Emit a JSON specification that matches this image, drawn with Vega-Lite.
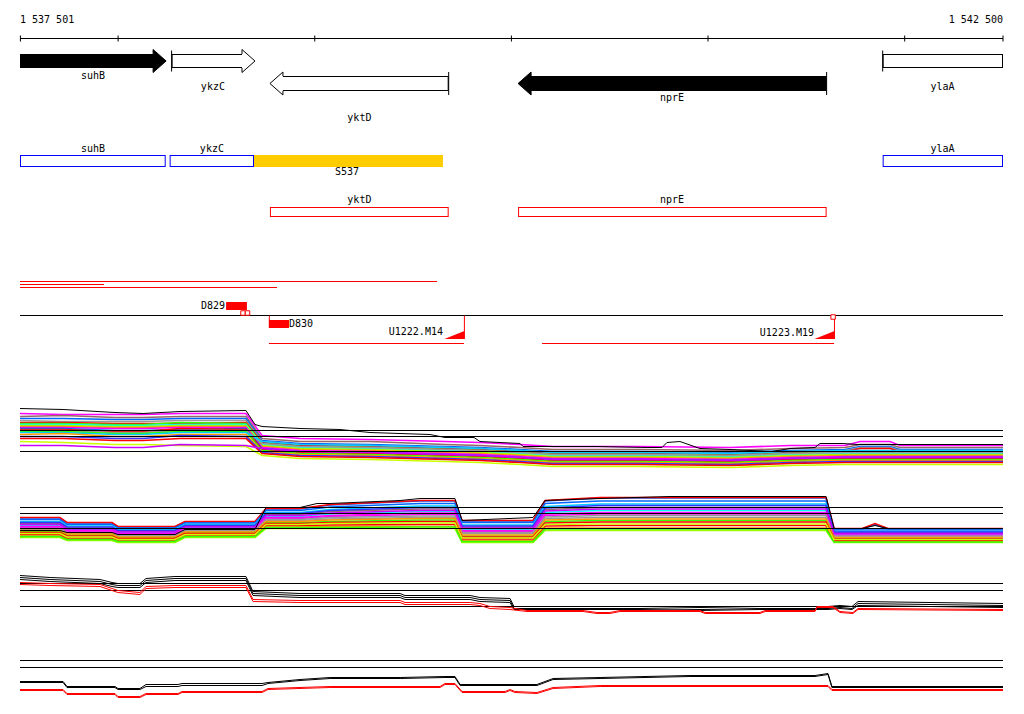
{
"$schema":"https://vega.github.io/schema/vega-lite/v6.json",
"width":1024,"height":714,
"autosize":{"type":"fit","contains":"padding"},
"padding":0,
"background":"white",
"config":{"view":{"stroke":null},"text":{"font":"DejaVu Sans Mono","fontSize":10,"fill":"black"},"rule":{"strokeCap":"butt"}},
"datasets":{
"genes":[
{"name":"suhB","left":1537000,"right":1538244,"strand":"+","kind":"solid","mid":1537872,"row":6.1,"lrow":7.6},
{"name":"ykzC","left":1538272,"right":1538696,"strand":"+","kind":"open","mid":1538482,"row":6.1,"lrow":8.7},
{"name":"yktD","left":1538772,"right":1539681,"strand":"-","kind":"open","mid":1539227,"row":8.35,"lrow":11.8},
{"name":"nprE","left":1540034,"right":1541603,"strand":"-","kind":"solid","mid":1540817,"row":8.35,"lrow":9.8},
{"name":"ylaA","left":1541888,"right":1543100,"strand":"+","kind":"open","mid":1542192,"row":6.1,"lrow":8.65}
],
"boxes":[
{"name":"suhB","left":1537501,"right":1538242,"mid":1537872,"row":16.1,"type":"blue"},
{"name":"ykzC","left":1538262,"right":1538691,"mid":1538477,"row":16.1,"type":"blue"},
{"name":"ylaA","left":1541888,"right":1542500,"mid":1542192,"row":16.1,"type":"blue"},
{"name":"yktD","left":1538772,"right":1539681,"mid":1539227,"row":21.2,"type":"red"},
{"name":"nprE","left":1540034,"right":1541603,"mid":1540817,"row":21.2,"type":"red"}
],
"p1":[
{"x":1537501,"s1":62,"s2":59,"s3":57,"s4":55,"s5":53,"s6":52,"s7":51,"s8":50,"s9":49,"s10":48,"s11":47,"s12":46,"s13":45,"s14":44,"s15":43,"s16":41,"s17":39,"s18":37,"s19":34,"s20":30},
{"x":1537720,"s1":61,"s2":60,"s3":57,"s4":54,"s5":53,"s6":52,"s7":51,"s8":50,"s9":49,"s10":48,"s11":47,"s12":46,"s13":45,"s14":44,"s15":43,"s16":42,"s17":39,"s18":37,"s19":33,"s20":30},
{"x":1537984,"s1":61,"s2":58,"s3":56,"s4":54,"s5":52,"s6":51,"s7":50,"s8":49,"s9":48,"s10":47,"s11":45,"s12":44,"s13":43,"s14":42,"s15":41,"s16":39,"s17":37,"s18":35,"s19":31,"s20":28},
{"x":1538127,"s1":61,"s2":58,"s3":56,"s4":54,"s5":52,"s6":51,"s7":50,"s8":49,"s9":48,"s10":47,"s11":45,"s12":44,"s13":43,"s14":42,"s15":41,"s16":39,"s17":37,"s18":35,"s19":31,"s20":28},
{"x":1538315,"s1":62,"s2":59,"s3":57,"s4":55,"s5":52,"s6":53,"s7":51,"s8":50,"s9":49,"s10":48,"s11":46,"s12":47,"s13":45,"s14":44,"s15":43,"s16":41,"s17":40,"s18":37,"s19":30,"s20":31},
{"x":1538650,"s1":62,"s2":59,"s3":57,"s4":55,"s5":53,"s6":52,"s7":51,"s8":50,"s9":49,"s10":48,"s11":47,"s12":46,"s13":45,"s14":44,"s15":43,"s16":41,"s17":39,"s18":37,"s19":29,"s20":30},
{"x":1538732,"s1":40,"s2":37,"s3":35,"s4":34,"s5":33,"s6":32,"s7":31,"s8":30,"s9":29,"s10":28,"s11":27,"s12":26,"s13":32,"s14":25,"s15":34,"s16":24,"s17":23,"s18":22,"s19":20,"s20":27},
{"x":1538925,"s1":37,"s2":34,"s3":32,"s4":31,"s5":30,"s6":29,"s7":28,"s8":27,"s9":26,"s10":25,"s11":24,"s12":23,"s13":29,"s14":22,"s15":31,"s16":21,"s17":20,"s18":19,"s19":17,"s20":24},
{"x":1539281,"s1":36,"s2":34,"s3":31,"s4":30,"s5":29,"s6":28,"s7":27,"s8":26,"s9":25,"s10":24,"s11":23,"s12":22,"s13":28,"s14":21,"s15":30,"s16":20,"s17":19,"s18":18,"s19":16,"s20":23},
{"x":1539662,"s1":34,"s2":31,"s3":29,"s4":28,"s5":27,"s6":26,"s7":25,"s8":24,"s9":23,"s10":22,"s11":21,"s12":20,"s13":26,"s14":19,"s15":28,"s16":18,"s17":17,"s18":16,"s19":14,"s20":21},
{"x":1539840,"s1":33,"s2":30,"s3":28,"s4":27,"s5":26,"s6":25,"s7":24,"s8":23,"s9":22,"s10":21,"s11":20,"s12":19,"s13":25,"s14":18,"s15":27,"s16":17,"s17":16,"s18":15,"s19":13,"s20":20},
{"x":1540044,"s1":31,"s2":28,"s3":26,"s4":25,"s5":24,"s6":23,"s7":22,"s8":21,"s9":20,"s10":19,"s11":18,"s12":17,"s13":23,"s14":16,"s15":25,"s16":15,"s17":14,"s18":13,"s19":11,"s20":18},
{"x":1540212,"s1":29,"s2":26,"s3":24,"s4":23,"s5":22,"s6":21,"s7":20,"s8":19,"s9":18,"s10":17,"s11":16,"s12":15,"s13":21,"s14":14,"s15":23,"s16":13,"s17":12,"s18":11,"s19":9,"s20":16},
{"x":1540654,"s1":29,"s2":26,"s3":24,"s4":23,"s5":22,"s6":21,"s7":20,"s8":19,"s9":18,"s10":17,"s11":16,"s12":15,"s13":21,"s14":14,"s15":23,"s16":13,"s17":12,"s18":11,"s19":9,"s20":16},
{"x":1541112,"s1":28,"s2":25,"s3":23,"s4":22,"s5":21,"s6":20,"s7":19,"s8":18,"s9":17,"s10":16,"s11":15,"s12":14,"s13":20,"s14":13,"s15":22,"s16":12,"s17":11,"s18":10,"s19":8,"s20":15},
{"x":1541417,"s1":30,"s2":27,"s3":25,"s4":24,"s5":23,"s6":22,"s7":21,"s8":20,"s9":19,"s10":18,"s11":17,"s12":16,"s13":22,"s14":15,"s15":24,"s16":14,"s17":13,"s18":12,"s19":10,"s20":17},
{"x":1541697,"s1":30,"s2":28,"s3":26,"s4":25,"s5":24,"s6":23,"s7":22,"s8":21,"s9":20,"s10":19,"s11":18,"s12":17,"s13":23,"s14":16,"s15":25,"s16":15,"s17":14,"s18":13,"s19":11,"s20":18},
{"x":1541773,"s1":34,"s2":31,"s3":29,"s4":28,"s5":27,"s6":23,"s7":22,"s8":21,"s9":20,"s10":19,"s11":18,"s12":17,"s13":23,"s14":16,"s15":25,"s16":15,"s17":14,"s18":13,"s19":11,"s20":18},
{"x":1541925,"s1":34,"s2":31,"s3":29,"s4":28,"s5":27,"s6":23,"s7":22,"s8":21,"s9":20,"s10":19,"s11":18,"s12":17,"s13":23,"s14":16,"s15":25,"s16":15,"s17":14,"s18":13,"s19":11,"s20":18},
{"x":1541976,"s1":30,"s2":28,"s3":26,"s4":25,"s5":24,"s6":23,"s7":22,"s8":21,"s9":20,"s10":19,"s11":18,"s12":17,"s13":23,"s14":16,"s15":25,"s16":15,"s17":14,"s18":13,"s19":11,"s20":18},
{"x":1542500,"s1":30,"s2":28,"s3":26,"s4":25,"s5":24,"s6":23,"s7":22,"s8":21,"s9":20,"s10":19,"s11":18,"s12":17,"s13":23,"s14":16,"s15":25,"s16":15,"s17":14,"s18":13,"s19":11,"s20":18}
],
"p1k":[
{"x":1537501,"v":67},{"x":1537720,"v":66},{"x":1537984,"v":63},{"x":1538127,"v":62},{"x":1538315,"v":64},{"x":1538650,"v":65},{"x":1538696,"v":51},{"x":1538732,"v":49},{"x":1538925,"v":47},{"x":1539128,"v":46},{"x":1539281,"v":43},{"x":1539586,"v":41},{"x":1539662,"v":38},{"x":1539810,"v":38},{"x":1539840,"v":34},{"x":1540044,"v":32},{"x":1540059,"v":29},{"x":1540435,"v":29},{"x":1540690,"v":28},{"x":1540766,"v":28},{"x":1540791,"v":33},{"x":1540857,"v":34},{"x":1540959,"v":27},{"x":1541112,"v":26},{"x":1541325,"v":24},{"x":1541417,"v":27},{"x":1541544,"v":28},{"x":1541569,"v":32},{"x":1541686,"v":32},{"x":1541758,"v":31},{"x":1542500,"v":31}
],
"p2":[
{"x":1537501,"s1":23,"s2":27,"s3":32.5,"s4":21,"s5":33,"s6":19,"s7":25,"s8":13,"s9":14.5,"s10":24,"s11":31,"s12":16,"s13":22,"s14":14,"s15":29,"s16":20,"s17":28,"s18":18,"s19":17,"s20":26},
{"x":1537704,"s1":23,"s2":27,"s3":32.5,"s4":21,"s5":33,"s6":19,"s7":25,"s8":13,"s9":14.5,"s10":24,"s11":31,"s12":16,"s13":22,"s14":14,"s15":29,"s16":20,"s17":28,"s18":18,"s19":17,"s20":26},
{"x":1537740,"s1":19,"s2":22.5,"s3":27.5,"s4":17,"s5":28,"s6":15.5,"s7":21,"s8":10,"s9":11.5,"s10":20,"s11":26,"s12":12.5,"s13":18,"s14":11,"s15":24.5,"s16":16.5,"s17":23.5,"s18":14.5,"s19":13.5,"s20":21.5},
{"x":1537969,"s1":19,"s2":22.5,"s3":27.5,"s4":17,"s5":28,"s6":15.5,"s7":21,"s8":10,"s9":11.5,"s10":20,"s11":26,"s12":12.5,"s13":18,"s14":11,"s15":24.5,"s16":16.5,"s17":23.5,"s18":14.5,"s19":13.5,"s20":21.5},
{"x":1537999,"s1":16,"s2":19,"s3":23.5,"s4":14.5,"s5":24,"s6":13,"s7":17.5,"s8":8,"s9":9.5,"s10":17,"s11":22.5,"s12":10.5,"s13":15,"s14":9,"s15":21,"s16":13.5,"s17":20,"s18":12,"s19":11,"s20":18.5},
{"x":1538289,"s1":16,"s2":19,"s3":23.5,"s4":14.5,"s5":24,"s6":13,"s7":17.5,"s8":8,"s9":9.5,"s10":17,"s11":22.5,"s12":10.5,"s13":15,"s14":9,"s15":21,"s16":13.5,"s17":20,"s18":12,"s19":11,"s20":18.5},
{"x":1538340,"s1":21,"s2":24,"s3":28.5,"s4":19.5,"s5":29,"s6":18,"s7":22.5,"s8":13,"s9":14.5,"s10":22,"s11":27.5,"s12":15.5,"s13":20,"s14":14,"s15":26,"s16":18.5,"s17":25,"s18":17,"s19":16,"s20":23.5},
{"x":1538696,"s1":21,"s2":24,"s3":28.5,"s4":19.5,"s5":29,"s6":18,"s7":22.5,"s8":13,"s9":14.5,"s10":22,"s11":27.5,"s12":15.5,"s13":20,"s14":14,"s15":26,"s16":18.5,"s17":25,"s18":17,"s19":16,"s20":23.5},
{"x":1538752,"s1":32,"s2":36,"s3":41.5,"s4":30,"s5":42,"s6":28,"s7":34,"s8":22,"s9":23.5,"s10":33,"s11":40,"s12":25,"s13":31,"s14":23,"s15":38,"s16":29,"s17":37,"s18":27,"s19":26,"s20":35},
{"x":1538925,"s1":32,"s2":36,"s3":41.5,"s4":30,"s5":42,"s6":28,"s7":34,"s8":22,"s9":23.5,"s10":33,"s11":40,"s12":25,"s13":31,"s14":23,"s15":38,"s16":29,"s17":37,"s18":27,"s19":26,"s20":35},
{"x":1539078,"s1":34,"s2":39,"s3":45.5,"s4":31.5,"s5":46,"s6":29,"s7":36.5,"s8":22,"s9":24,"s10":35,"s11":43.5,"s12":25.5,"s13":33,"s14":23,"s15":41,"s16":30.5,"s17":40,"s18":28,"s19":27,"s20":37.5},
{"x":1539535,"s1":36,"s2":41.5,"s3":49.5,"s4":33,"s5":50,"s6":30.5,"s7":39,"s8":22,"s9":24,"s10":37.5,"s11":47,"s12":26,"s13":34.5,"s14":23.5,"s15":44.5,"s16":32,"s17":43,"s18":29,"s19":27.5,"s20":40},
{"x":1539713,"s1":36,"s2":41.5,"s3":49.5,"s4":33,"s5":50,"s6":30.5,"s7":39,"s8":22,"s9":24,"s10":37.5,"s11":47,"s12":26,"s13":34.5,"s14":23.5,"s15":44.5,"s16":32,"s17":43,"s18":29,"s19":27.5,"s20":40},
{"x":1539749,"s1":19,"s2":23.5,"s3":29.5,"s4":17,"s5":30,"s6":14.5,"s7":21,"s8":8,"s9":10,"s10":20,"s11":28,"s12":11.5,"s13":18,"s14":9,"s15":25.5,"s16":15.5,"s17":24.5,"s18":13.5,"s19":12.5,"s20":22.5},
{"x":1540110,"s1":19,"s2":23.5,"s3":29.5,"s4":17,"s5":30,"s6":14.5,"s7":21,"s8":8,"s9":10,"s10":20,"s11":28,"s12":11.5,"s13":18,"s14":9,"s15":25.5,"s16":15.5,"s17":24.5,"s18":13.5,"s19":12.5,"s20":22.5},
{"x":1540171,"s1":35,"s2":41,"s3":49.5,"s4":32,"s5":50,"s6":29,"s7":38,"s8":20,"s9":22.5,"s10":36.5,"s11":47,"s12":24.5,"s13":33.5,"s14":21.5,"s15":44,"s16":30.5,"s17":42.5,"s18":27.5,"s19":26,"s20":39.5},
{"x":1540451,"s1":36.5,"s2":43,"s3":52.5,"s4":33,"s5":53,"s6":30,"s7":40,"s8":20,"s9":22.5,"s10":38,"s11":49.5,"s12":25,"s13":35,"s14":21.5,"s15":46.5,"s16":31.5,"s17":45,"s18":28.5,"s19":26.5,"s20":41.5},
{"x":1541600,"s1":36.5,"s2":43,"s3":52.5,"s4":33,"s5":53,"s6":30,"s7":40,"s8":20,"s9":22.5,"s10":38,"s11":49.5,"s12":25,"s13":35,"s14":21.5,"s15":46.5,"s16":31.5,"s17":45,"s18":28.5,"s19":26.5,"s20":41.5},
{"x":1541641,"s1":15,"s2":18,"s3":21.5,"s4":13.5,"s5":22,"s6":12,"s7":16.5,"s8":8,"s9":9,"s10":15.5,"s11":20.5,"s12":10,"s13":14.5,"s14":8.5,"s15":19,"s16":13,"s17":18.5,"s18":11.5,"s19":11,"s20":17},
{"x":1541783,"s1":15,"s2":18,"s3":21.5,"s4":13.5,"s5":22,"s6":12,"s7":16.5,"s8":8,"s9":9,"s10":15.5,"s11":20.5,"s12":10,"s13":14.5,"s14":8.5,"s15":19,"s16":13,"s17":18.5,"s18":11.5,"s19":11,"s20":17},
{"x":1541849,"s1":15,"s2":18,"s3":26,"s4":13.5,"s5":27,"s6":12,"s7":16.5,"s8":8,"s9":9,"s10":15.5,"s11":20.5,"s12":10,"s13":14.5,"s14":8.5,"s15":19,"s16":13,"s17":18.5,"s18":11.5,"s19":11,"s20":17},
{"x":1541915,"s1":15,"s2":18,"s3":21.5,"s4":13.5,"s5":22,"s6":12,"s7":16.5,"s8":8,"s9":9,"s10":15.5,"s11":20.5,"s12":10,"s13":14.5,"s14":8.5,"s15":19,"s16":13,"s17":18.5,"s18":11.5,"s19":11,"s20":17},
{"x":1542500,"s1":15,"s2":18,"s3":21.5,"s4":13.5,"s5":22,"s6":12,"s7":16.5,"s8":8,"s9":9,"s10":15.5,"s11":20.5,"s12":10,"s13":14.5,"s14":8.5,"s15":19,"s16":13,"s17":18.5,"s18":11.5,"s19":11,"s20":17}
],
"p2k":[
{"x":1537501,"v":20},{"x":1537704,"v":20},{"x":1537740,"v":18},{"x":1537969,"v":18},{"x":1537999,"v":16},{"x":1538289,"v":16},{"x":1538340,"v":21},{"x":1538696,"v":21},{"x":1538752,"v":43},{"x":1538925,"v":43},{"x":1539011,"v":47},{"x":1539078,"v":47},{"x":1539434,"v":50},{"x":1539535,"v":52},{"x":1539713,"v":52},{"x":1539749,"v":30},{"x":1540110,"v":33},{"x":1540171,"v":50},{"x":1540451,"v":52},{"x":1540807,"v":54},{"x":1541600,"v":54},{"x":1541641,"v":22},{"x":1541783,"v":22},{"x":1541849,"v":25},{"x":1541915,"v":22},{"x":1542500,"v":22}
],
"p3b":[
{"x":1537501,"b1":50,"b2":48,"b3":46},{"x":1537654,"b1":48,"b2":46,"b3":44},{"x":1537908,"b1":46,"b2":44,"b3":42},{"x":1537969,"b1":43,"b2":41,"b3":39},{"x":1537999,"b1":42,"b2":40,"b3":38},{"x":1538111,"b1":42,"b2":40,"b3":38},{"x":1538142,"b1":47,"b2":45,"b3":43},{"x":1538289,"b1":49,"b2":47,"b3":45},{"x":1538650,"b1":49,"b2":47,"b3":45},{"x":1538686,"b1":34,"b2":32,"b3":30},{"x":1538925,"b1":32,"b2":30,"b3":28},{"x":1539434,"b1":32,"b2":30,"b3":28},{"x":1539459,"b1":30,"b2":28,"b3":26},{"x":1539790,"b1":30,"b2":28,"b3":26},{"x":1539840,"b1":28,"b2":26,"b3":24},{"x":1539993,"b1":27,"b2":25,"b3":23},{"x":1540013,"b1":19,"b2":17,"b3":16},{"x":1540654,"b1":19,"b2":17,"b3":16},{"x":1540959,"b1":18,"b2":16,"b3":15},{"x":1541264,"b1":19,"b2":17,"b3":16},{"x":1541610,"b1":19,"b2":17,"b3":16},{"x":1541671,"b1":20,"b2":18,"b3":17},{"x":1541732,"b1":19,"b2":17,"b3":16},{"x":1541763,"b1":24,"b2":22,"b3":20},{"x":1542500,"b1":22,"b2":20,"b3":18}
],
"p3r":[
{"x":1537501,"r1":43,"r2":41},{"x":1537654,"r1":42,"r2":40},{"x":1537908,"r1":41,"r2":39},{"x":1537969,"r1":37,"r2":35},{"x":1537999,"r1":35,"r2":33},{"x":1538111,"r1":33,"r2":31},{"x":1538142,"r1":39,"r2":37},{"x":1538289,"r1":40,"r2":38},{"x":1538650,"r1":40,"r2":38},{"x":1538686,"r1":26,"r2":24},{"x":1538925,"r1":25,"r2":23},{"x":1539434,"r1":25,"r2":23},{"x":1539459,"r1":23,"r2":21},{"x":1539790,"r1":23,"r2":21},{"x":1539840,"r1":22,"r2":20},{"x":1539891,"r1":19,"r2":17},{"x":1539993,"r1":18,"r2":16},{"x":1540079,"r1":15,"r2":14},{"x":1540364,"r1":15,"r2":14},{"x":1540435,"r1":13,"r2":12},{"x":1540501,"r1":13,"r2":12},{"x":1540552,"r1":15,"r2":14},{"x":1540959,"r1":15,"r2":14},{"x":1540985,"r1":13,"r2":12},{"x":1541264,"r1":13,"r2":12},{"x":1541290,"r1":15,"r2":14},{"x":1541544,"r1":15,"r2":14},{"x":1541554,"r1":19,"r2":18},{"x":1541636,"r1":19,"r2":18},{"x":1541671,"r1":14,"r2":13},{"x":1541737,"r1":13,"r2":12},{"x":1541763,"r1":17,"r2":16},{"x":1542500,"r1":16,"r2":15}
],
"p4b":[
{"x":1537501,"b1":24,"b2":23},{"x":1537720,"b1":24,"b2":23},{"x":1537740,"b1":19,"b2":18},{"x":1537984,"b1":19,"b2":18},{"x":1537999,"b1":17,"b2":16},{"x":1538111,"b1":17,"b2":16},{"x":1538142,"b1":21,"b2":19},{"x":1538305,"b1":21,"b2":19},{"x":1538325,"b1":22,"b2":20},{"x":1538732,"b1":22,"b2":20},{"x":1538762,"b1":23,"b2":22},{"x":1538925,"b1":26,"b2":25},{"x":1539078,"b1":28,"b2":27},{"x":1539434,"b1":28,"b2":27},{"x":1539662,"b1":29,"b2":28},{"x":1539713,"b1":29,"b2":28},{"x":1539739,"b1":21,"b2":20},{"x":1540130,"b1":21,"b2":20},{"x":1540212,"b1":27,"b2":26},{"x":1540451,"b1":28,"b2":27},{"x":1540908,"b1":30,"b2":29},{"x":1541544,"b1":30,"b2":29},{"x":1541610,"b1":32,"b2":31},{"x":1541630,"b1":19,"b2":18},{"x":1542500,"b1":19,"b2":18}
],
"p4r":[
{"x":1537501,"r1":16,"r2":15},{"x":1537720,"r1":16,"r2":15},{"x":1537740,"r1":12,"r2":11},{"x":1537984,"r1":12,"r2":11},{"x":1537999,"r1":9,"r2":8},{"x":1538111,"r1":9,"r2":8},{"x":1538142,"r1":12,"r2":11},{"x":1538305,"r1":12,"r2":11},{"x":1538325,"r1":14,"r2":13},{"x":1538732,"r1":14,"r2":13},{"x":1538762,"r1":17,"r2":16},{"x":1539078,"r1":19,"r2":18},{"x":1539637,"r1":19,"r2":18},{"x":1539662,"r1":22,"r2":21},{"x":1539713,"r1":22,"r2":21},{"x":1539749,"r1":14,"r2":13},{"x":1539968,"r1":14,"r2":13},{"x":1539993,"r1":16,"r2":15},{"x":1540018,"r1":14,"r2":13},{"x":1540130,"r1":13,"r2":12},{"x":1540212,"r1":18,"r2":17},{"x":1540451,"r1":20,"r2":19},{"x":1541610,"r1":20,"r2":19},{"x":1541630,"r1":16,"r2":15},{"x":1542500,"r1":16,"r2":15}
]
},
"layer":[
{"data":{"values":[{"a":1537501,"b":1542500,"row":3.85}]},"mark":{"type":"rule","stroke":"black","strokeWidth":1},"encoding":{"x":{"field":"a","type":"quantitative","scale":{"domain":[1537501,1542500],"range":[20,1003],"clamp":true},"axis":null},"x2":{"field":"b"},"y":{"field":"row","type":"quantitative","scale":{"domain":[0,71.4],"range":[0,714]},"axis":null}}},
{"data":{"values":[{"p":1537503,"row":3.85},{"p":1538000,"row":3.85},{"p":1539000,"row":3.85},{"p":1540000,"row":3.85},{"p":1541000,"row":3.85},{"p":1542000,"row":3.85},{"p":1542500,"row":3.85}]},"mark":{"type":"point","shape":"M0,-1L0,1","size":36,"filled":false,"stroke":"black","strokeWidth":1,"opacity":1},"encoding":{"x":{"field":"p","type":"quantitative","scale":{"domain":[1537501,1542500],"range":[20,1003],"clamp":true},"axis":null},"y":{"field":"row","type":"quantitative","scale":{"domain":[0,71.4],"range":[0,714]},"axis":null}}},
{"data":{"values":[{"p":1537501,"row":2.0,"t":"1 537 501"}]},"mark":{"type":"text","align":"left","baseline":"middle"},"encoding":{"x":{"field":"p","type":"quantitative","scale":{"domain":[1537501,1542500],"range":[20,1003],"clamp":true},"axis":null},"y":{"field":"row","type":"quantitative","scale":{"domain":[0,71.4],"range":[0,714]},"axis":null},"text":{"field":"t"}}},
{"data":{"values":[{"p":1542500,"row":2.0,"t":"1 542 500"}]},"mark":{"type":"text","align":"right","baseline":"middle"},"encoding":{"x":{"field":"p","type":"quantitative","scale":{"domain":[1537501,1542500],"range":[20,1003],"clamp":true},"axis":null},"y":{"field":"row","type":"quantitative","scale":{"domain":[0,71.4],"range":[0,714]},"axis":null},"text":{"field":"t"}}},

{"data":{"name":"genes"},"transform":[{"filter":"datum.strand == '+' && datum.right <= 1542500"}],"mark":{"type":"rule","strokeWidth":14,"x2Offset":-11,"stroke":"black"},"encoding":{"x":{"field":"left","type":"quantitative","scale":{"domain":[1537501,1542500],"range":[20,1003],"clamp":true},"axis":null},"x2":{"field":"right"},"y":{"field":"row","type":"quantitative","scale":{"domain":[0,71.4],"range":[0,714]},"axis":null}}},
{"data":{"name":"genes"},"transform":[{"filter":"datum.strand == '+' && datum.right <= 1542500"}],"mark":{"type":"rule","strokeWidth":12,"xOffset":1,"x2Offset":-12},"encoding":{"x":{"field":"left","type":"quantitative","scale":{"domain":[1537501,1542500],"range":[20,1003],"clamp":true},"axis":null},"x2":{"field":"right"},"y":{"field":"row","type":"quantitative","scale":{"domain":[0,71.4],"range":[0,714]},"axis":null},"color":{"field":"kind","type":"nominal","scale":{"domain":["solid","open"],"range":["black","white"]},"legend":null}}},
{"data":{"name":"genes"},"transform":[{"filter":"datum.strand == '+' && datum.right > 1542500"}],"mark":{"type":"rule","strokeWidth":14,"stroke":"black"},"encoding":{"x":{"field":"left","type":"quantitative","scale":{"domain":[1537501,1542500],"range":[20,1003],"clamp":true},"axis":null},"x2":{"field":"right"},"y":{"field":"row","type":"quantitative","scale":{"domain":[0,71.4],"range":[0,714]},"axis":null}}},
{"data":{"name":"genes"},"transform":[{"filter":"datum.strand == '+' && datum.right > 1542500"}],"mark":{"type":"rule","strokeWidth":12,"xOffset":1,"x2Offset":-1},"encoding":{"x":{"field":"left","type":"quantitative","scale":{"domain":[1537501,1542500],"range":[20,1003],"clamp":true},"axis":null},"x2":{"field":"right"},"y":{"field":"row","type":"quantitative","scale":{"domain":[0,71.4],"range":[0,714]},"axis":null},"color":{"field":"kind","type":"nominal","scale":{"domain":["solid","open"],"range":["black","white"]},"legend":null}}},
{"data":{"name":"genes"},"transform":[{"filter":"datum.strand == '-' && datum.left >= 1537501"}],"mark":{"type":"rule","strokeWidth":15,"xOffset":11,"stroke":"black"},"encoding":{"x":{"field":"left","type":"quantitative","scale":{"domain":[1537501,1542500],"range":[20,1003],"clamp":true},"axis":null},"x2":{"field":"right"},"y":{"field":"row","type":"quantitative","scale":{"domain":[0,71.4],"range":[0,714]},"axis":null}}},
{"data":{"name":"genes"},"transform":[{"filter":"datum.strand == '-' && datum.left >= 1537501"}],"mark":{"type":"rule","strokeWidth":13,"xOffset":12,"x2Offset":-1},"encoding":{"x":{"field":"left","type":"quantitative","scale":{"domain":[1537501,1542500],"range":[20,1003],"clamp":true},"axis":null},"x2":{"field":"right"},"y":{"field":"row","type":"quantitative","scale":{"domain":[0,71.4],"range":[0,714]},"axis":null},"color":{"field":"kind","type":"nominal","scale":{"domain":["solid","open"],"range":["black","white"]},"legend":null}}},
{"data":{"name":"genes"},"transform":[{"filter":"datum.strand == '+' && datum.right <= 1542500"}],"mark":{"type":"point","shape":"M-1.13,-0.61L-1.13,-1L0,0L-1.13,1L-1.13,0.61","size":529,"filled":true,"stroke":"black","strokeWidth":1,"opacity":1},"encoding":{"x":{"field":"right","type":"quantitative","scale":{"domain":[1537501,1542500],"range":[20,1003],"clamp":true},"axis":null},"y":{"field":"row","type":"quantitative","scale":{"domain":[0,71.4],"range":[0,714]},"axis":null},"color":{"field":"kind","type":"nominal","scale":{"domain":["solid","open"],"range":["black","white"]},"legend":null}}},
{"data":{"name":"genes"},"transform":[{"filter":"datum.strand == '-' && datum.left >= 1537501"}],"mark":{"type":"point","shape":"M1.13,-0.65L1.13,-1L0,0L1.13,1L1.13,0.65","size":529,"filled":true,"stroke":"black","strokeWidth":1,"opacity":1},"encoding":{"x":{"field":"left","type":"quantitative","scale":{"domain":[1537501,1542500],"range":[20,1003],"clamp":true},"axis":null},"y":{"field":"row","type":"quantitative","scale":{"domain":[0,71.4],"range":[0,714]},"axis":null},"color":{"field":"kind","type":"nominal","scale":{"domain":["solid","open"],"range":["black","white"]},"legend":null}}},
{"data":{"name":"genes"},"transform":[{"filter":"datum.strand == '+' && datum.left >= 1537501"}],"mark":{"type":"point","shape":"M0,-1L0,1","size":441,"filled":false,"stroke":"black","strokeWidth":1,"opacity":1},"encoding":{"x":{"field":"left","type":"quantitative","scale":{"domain":[1537501,1542500],"range":[20,1003],"clamp":true},"axis":null},"y":{"field":"row","type":"quantitative","scale":{"domain":[0,71.4],"range":[0,714]},"axis":null}}},
{"data":{"name":"genes"},"transform":[{"filter":"datum.strand == '-' && datum.right <= 1542500"}],"mark":{"type":"point","shape":"M0,-1L0,1","size":529,"filled":false,"stroke":"black","strokeWidth":1,"opacity":1},"encoding":{"x":{"field":"right","type":"quantitative","scale":{"domain":[1537501,1542500],"range":[20,1003],"clamp":true},"axis":null},"y":{"field":"row","type":"quantitative","scale":{"domain":[0,71.4],"range":[0,714]},"axis":null}}},
{"data":{"name":"genes"},"mark":{"type":"text","align":"center","baseline":"middle"},"encoding":{"x":{"field":"mid","type":"quantitative","scale":{"domain":[1537501,1542500],"range":[20,1003],"clamp":true},"axis":null},"y":{"field":"lrow","type":"quantitative","scale":{"domain":[0,71.4],"range":[0,714]},"axis":null},"text":{"field":"name"}}},

{"data":{"name":"boxes"},"transform":[{"filter":"datum.type == 'blue'"}],"mark":{"type":"rule","strokeWidth":12,"stroke":"#0000ff"},"encoding":{"x":{"field":"left","type":"quantitative","scale":{"domain":[1537501,1542500],"range":[20,1003],"clamp":true},"axis":null},"x2":{"field":"right"},"y":{"field":"row","type":"quantitative","scale":{"domain":[0,71.4],"range":[0,714]},"axis":null}}},
{"data":{"name":"boxes"},"transform":[{"filter":"datum.type == 'red'"}],"mark":{"type":"rule","strokeWidth":10,"stroke":"#ff0000"},"encoding":{"x":{"field":"left","type":"quantitative","scale":{"domain":[1537501,1542500],"range":[20,1003],"clamp":true},"axis":null},"x2":{"field":"right"},"y":{"field":"row","type":"quantitative","scale":{"domain":[0,71.4],"range":[0,714]},"axis":null}}},
{"data":{"name":"boxes"},"transform":[{"filter":"datum.type == 'blue'"}],"mark":{"type":"rule","strokeWidth":10,"stroke":"white","xOffset":1,"x2Offset":-1},"encoding":{"x":{"field":"left","type":"quantitative","scale":{"domain":[1537501,1542500],"range":[20,1003],"clamp":true},"axis":null},"x2":{"field":"right"},"y":{"field":"row","type":"quantitative","scale":{"domain":[0,71.4],"range":[0,714]},"axis":null}}},
{"data":{"name":"boxes"},"transform":[{"filter":"datum.type == 'red'"}],"mark":{"type":"rule","strokeWidth":8,"stroke":"white","xOffset":1,"x2Offset":-1},"encoding":{"x":{"field":"left","type":"quantitative","scale":{"domain":[1537501,1542500],"range":[20,1003],"clamp":true},"axis":null},"x2":{"field":"right"},"y":{"field":"row","type":"quantitative","scale":{"domain":[0,71.4],"range":[0,714]},"axis":null}}},
{"data":{"name":"boxes"},"mark":{"type":"text","align":"center","baseline":"middle","dy":-12},"encoding":{"x":{"field":"mid","type":"quantitative","scale":{"domain":[1537501,1542500],"range":[20,1003],"clamp":true},"axis":null},"y":{"field":"row","type":"quantitative","scale":{"domain":[0,71.4],"range":[0,714]},"axis":null},"text":{"field":"name"}}},
{"data":{"values":[{"name":"S537","left":1538691,"right":1539652,"mid":1539164,"row":16.1}]},"layer":[
 {"mark":{"type":"rule","strokeWidth":12,"stroke":"#ffcc00"},"encoding":{"x":{"field":"left","type":"quantitative","scale":{"domain":[1537501,1542500],"range":[20,1003],"clamp":true},"axis":null},"x2":{"field":"right"},"y":{"field":"row","type":"quantitative","scale":{"domain":[0,71.4],"range":[0,714]},"axis":null}}},
 {"mark":{"type":"text","align":"center","baseline":"middle","dy":11},"encoding":{"x":{"field":"mid","type":"quantitative","scale":{"domain":[1537501,1542500],"range":[20,1003],"clamp":true},"axis":null},"y":{"field":"row","type":"quantitative","scale":{"domain":[0,71.4],"range":[0,714]},"axis":null},"text":{"field":"name"}}}
]},

{"data":{"values":[{"left":1537501,"right":1539622,"row":28.15},{"left":1537501,"right":1537928,"row":28.45},{"left":1537501,"right":1538808,"row":28.75},{"left":1538767,"right":1539759,"row":34.35},{"left":1540156,"right":1541641,"row":34.35}]},"mark":{"type":"rule","stroke":"#ff0000","strokeWidth":1},"encoding":{"x":{"field":"left","type":"quantitative","scale":{"domain":[1537501,1542500],"range":[20,1003],"clamp":true},"axis":null},"x2":{"field":"right"},"y":{"field":"row","type":"quantitative","scale":{"domain":[0,71.4],"range":[0,714]},"axis":null}}},
{"data":{"values":[{"left":1537501,"right":1542500,"row":31.55}]},"mark":{"type":"rule","stroke":"black","strokeWidth":1},"encoding":{"x":{"field":"left","type":"quantitative","scale":{"domain":[1537501,1542500],"range":[20,1003],"clamp":true},"axis":null},"x2":{"field":"right"},"y":{"field":"row","type":"quantitative","scale":{"domain":[0,71.4],"range":[0,714]},"axis":null}}},
{"data":{"values":[{"p":1538769,"row":31.55,"row2":32.8},{"p":1539761,"row":31.55,"row2":33.9},{"p":1541643,"row":31.9,"row2":33.9}]},"mark":{"type":"rule","stroke":"#ff0000","strokeWidth":1},"encoding":{"x":{"field":"p","type":"quantitative","scale":{"domain":[1537501,1542500],"range":[20,1003],"clamp":true},"axis":null},"y":{"field":"row","type":"quantitative","scale":{"domain":[0,71.4],"range":[0,714]},"axis":null},"y2":{"field":"row2"}}},
{"data":{"values":[{"name":"D829","left":1538549,"right":1538655,"row":30.6},{"name":"D830","left":1538767,"right":1538869,"row":32.4}]},"mark":{"type":"rule","strokeWidth":8,"stroke":"#ff0000"},"encoding":{"x":{"field":"left","type":"quantitative","scale":{"domain":[1537501,1542500],"range":[20,1003],"clamp":true},"axis":null},"x2":{"field":"right"},"y":{"field":"row","type":"quantitative","scale":{"domain":[0,71.4],"range":[0,714]},"axis":null}}},
{"data":{"values":[{"name":"D829","p":1538549,"row":30.6},{"name":"U1222.M14","p":1539657,"row":33.2},{"name":"U1223.M19","p":1541544,"row":33.3}]},"mark":{"type":"text","align":"right","baseline":"middle","dx":-1},"encoding":{"x":{"field":"p","type":"quantitative","scale":{"domain":[1537501,1542500],"range":[20,1003],"clamp":true},"axis":null},"y":{"field":"row","type":"quantitative","scale":{"domain":[0,71.4],"range":[0,714]},"axis":null},"text":{"field":"name"}}},
{"data":{"values":[{"name":"D830","p":1538869,"row":32.4}]},"mark":{"type":"text","align":"left","baseline":"middle"},"encoding":{"x":{"field":"p","type":"quantitative","scale":{"domain":[1537501,1542500],"range":[20,1003],"clamp":true},"axis":null},"y":{"field":"row","type":"quantitative","scale":{"domain":[0,71.4],"range":[0,714]},"axis":null},"text":{"field":"name"}}},
{"data":{"values":[{"p":1538635,"row":31.3},{"p":1538658,"row":31.3},{"p":1541636,"row":31.7}]},"mark":{"type":"point","shape":"square","size":20,"filled":true,"fill":"white","stroke":"#ff0000","strokeWidth":1,"opacity":1},"encoding":{"x":{"field":"p","type":"quantitative","scale":{"domain":[1537501,1542500],"range":[20,1003],"clamp":true},"axis":null},"y":{"field":"row","type":"quantitative","scale":{"domain":[0,71.4],"range":[0,714]},"axis":null}}},
{"data":{"values":[{"p":1539761,"row":33.9},{"p":1541643,"row":33.9}]},"mark":{"type":"point","shape":"M-2,0L0,0L0,-0.8Z","size":400,"filled":true,"fill":"#ff0000","strokeWidth":0,"opacity":1},"encoding":{"x":{"field":"p","type":"quantitative","scale":{"domain":[1537501,1542500],"range":[20,1003],"clamp":true},"axis":null},"y":{"field":"row","type":"quantitative","scale":{"domain":[0,71.4],"range":[0,714]},"axis":null}}},

{"data":{"name":"p1"},"transform":[{"fold":["s1","s2","s3","s4","s5","s6","s7","s8","s9","s10","s11","s12","s13","s14","s15","s16","s17","s18","s19","s20"],"as":["sample","v"]}],"mark":{"type":"line","strokeWidth":1.6},"encoding":{"x":{"field":"x","type":"quantitative","scale":{"domain":[1537501,1542500],"range":[20,1003],"clamp":true},"axis":null},"y":{"field":"v","type":"quantitative","scale":{"domain":[0,70],"range":[475.5,405.5]},"axis":null},"color":{"field":"sample","type":"nominal","scale":{"domain":["s1","s2","s3","s4","s5","s6","s7","s8","s9","s10","s11","s12","s13","s14","s15","s16","s17","s18","s19","s20"],"range":["#ff00ff","#996666","#0066ff","#999999","#ff0000","#33ff00","#00ffff","#99ff00","#ff9900","#ff00ff","#0066ff","#ff0000","#999999","#33ff00","#00ccff","#ff9900","#3333ff","#ff0000","#ccff00","#cc00ff"]},"legend":null}}},
{"data":{"name":"p1k"},"mark":{"type":"line","stroke":"black","strokeWidth":1},"encoding":{"x":{"field":"x","type":"quantitative","scale":{"domain":[1537501,1542500],"range":[20,1003],"clamp":true},"axis":null},"y":{"field":"v","type":"quantitative","scale":{"domain":[0,70],"range":[475.5,405.5]},"axis":null}}},
{"data":{"values":[{"left":1537501,"right":1542500,"v":45},{"left":1537501,"right":1542500,"v":39},{"left":1537501,"right":1542500,"v":24}]},"mark":{"type":"rule","stroke":"black","strokeWidth":1},"encoding":{"x":{"field":"left","type":"quantitative","scale":{"domain":[1537501,1542500],"range":[20,1003],"clamp":true},"axis":null},"x2":{"field":"right"},"y":{"field":"v","type":"quantitative","scale":{"domain":[0,70],"range":[475.5,405.5]},"axis":null}}},

{"data":{"name":"p2"},"transform":[{"fold":["s1","s2","s3","s4","s5","s6","s7","s8","s9","s10","s11","s12","s13","s14","s15","s16","s17","s18","s19","s20"],"as":["sample","v"]}],"mark":{"type":"line","strokeWidth":1.6},"encoding":{"x":{"field":"x","type":"quantitative","scale":{"domain":[1537501,1542500],"range":[20,1003],"clamp":true},"axis":null},"y":{"field":"v","type":"quantitative","scale":{"domain":[0,60],"range":[550.5,490.5]},"axis":null},"color":{"field":"sample","type":"nominal","scale":{"domain":["s1","s2","s3","s4","s5","s6","s7","s8","s9","s10","s11","s12","s13","s14","s15","s16","s17","s18","s19","s20"],"range":["#ff00ff","#996666","#0066ff","#999999","#ff0000","#33ff00","#00ffff","#99ff00","#ff9900","#ff00ff","#0066ff","#ff0000","#999999","#33ff00","#00ccff","#ff9900","#3333ff","#ff0000","#ccff00","#cc00ff"]},"legend":null}}},
{"data":{"name":"p2k"},"mark":{"type":"line","stroke":"black","strokeWidth":1},"encoding":{"x":{"field":"x","type":"quantitative","scale":{"domain":[1537501,1542500],"range":[20,1003],"clamp":true},"axis":null},"y":{"field":"v","type":"quantitative","scale":{"domain":[0,60],"range":[550.5,490.5]},"axis":null}}},
{"data":{"values":[{"left":1537501,"right":1542500,"v":43},{"left":1537501,"right":1542500,"v":37},{"left":1537501,"right":1542500,"v":22}]},"mark":{"type":"rule","stroke":"black","strokeWidth":1},"encoding":{"x":{"field":"left","type":"quantitative","scale":{"domain":[1537501,1542500],"range":[20,1003],"clamp":true},"axis":null},"x2":{"field":"right"},"y":{"field":"v","type":"quantitative","scale":{"domain":[0,60],"range":[550.5,490.5]},"axis":null}}},

{"data":{"values":[{"left":1537501,"right":1542500,"v":42},{"left":1537501,"right":1542500,"v":35},{"left":1537501,"right":1542500,"v":19}]},"mark":{"type":"rule","stroke":"black","strokeWidth":1},"encoding":{"x":{"field":"left","type":"quantitative","scale":{"domain":[1537501,1542500],"range":[20,1003],"clamp":true},"axis":null},"x2":{"field":"right"},"y":{"field":"v","type":"quantitative","scale":{"domain":[0,60],"range":[625.5,565.5]},"axis":null}}},
{"data":{"name":"p3b"},"transform":[{"fold":["b1","b2","b3"],"as":["k","v"]}],"mark":{"type":"line","stroke":"black","strokeWidth":1},"encoding":{"x":{"field":"x","type":"quantitative","scale":{"domain":[1537501,1542500],"range":[20,1003],"clamp":true},"axis":null},"y":{"field":"v","type":"quantitative","scale":{"domain":[0,60],"range":[625.5,565.5]},"axis":null},"detail":{"field":"k"}}},
{"data":{"name":"p3r"},"transform":[{"fold":["r1","r2"],"as":["k","v"]}],"mark":{"type":"line","stroke":"#ff0000","strokeWidth":1},"encoding":{"x":{"field":"x","type":"quantitative","scale":{"domain":[1537501,1542500],"range":[20,1003],"clamp":true},"axis":null},"y":{"field":"v","type":"quantitative","scale":{"domain":[0,60],"range":[625.5,565.5]},"axis":null},"detail":{"field":"k"}}},

{"data":{"values":[{"left":1537501,"right":1542500,"v":45},{"left":1537501,"right":1542500,"v":38}]},"mark":{"type":"rule","stroke":"black","strokeWidth":1},"encoding":{"x":{"field":"left","type":"quantitative","scale":{"domain":[1537501,1542500],"range":[20,1003],"clamp":true},"axis":null},"x2":{"field":"right"},"y":{"field":"v","type":"quantitative","scale":{"domain":[0,60],"range":[705.5,645.5]},"axis":null}}},
{"data":{"name":"p4b"},"transform":[{"fold":["b1","b2"],"as":["k","v"]}],"mark":{"type":"line","stroke":"black","strokeWidth":1},"encoding":{"x":{"field":"x","type":"quantitative","scale":{"domain":[1537501,1542500],"range":[20,1003],"clamp":true},"axis":null},"y":{"field":"v","type":"quantitative","scale":{"domain":[0,60],"range":[705.5,645.5]},"axis":null},"detail":{"field":"k"}}},
{"data":{"name":"p4r"},"transform":[{"fold":["r1","r2"],"as":["k","v"]}],"mark":{"type":"line","stroke":"#ff0000","strokeWidth":1},"encoding":{"x":{"field":"x","type":"quantitative","scale":{"domain":[1537501,1542500],"range":[20,1003],"clamp":true},"axis":null},"y":{"field":"v","type":"quantitative","scale":{"domain":[0,60],"range":[705.5,645.5]},"axis":null},"detail":{"field":"k"}}}
],
"resolve":{"scale":{"y":"independent","color":"independent"}}
}
